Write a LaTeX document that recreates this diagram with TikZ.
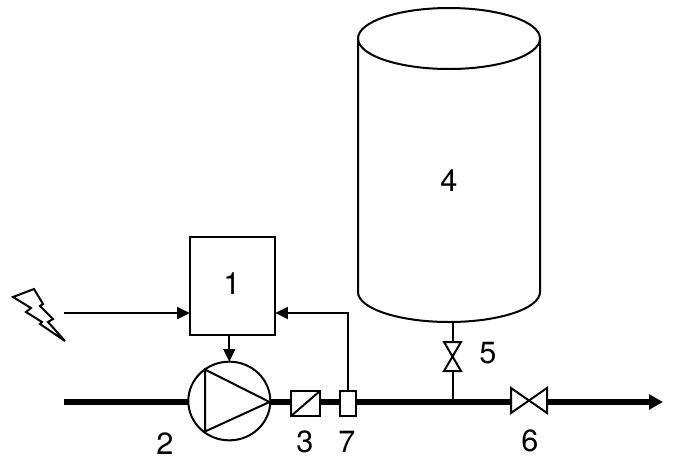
\documentclass[tikz,border=0pt]{standalone}
\usepackage{fontspec}
\setmainfont{TeX Gyre Heros}
\usetikzlibrary{arrows.meta,shapes.geometric}
\tikzset{
	lbl/.style={font=\fontsize{23}{23}\selectfont,inner sep=0pt},
	med line/.style={line width=1.5pt},
	pipe/.style={line width=4pt},
	part/.style={draw,line width=1.5pt,fill=white,inner sep=0pt,outer sep=0pt},
	mark box/.style={inner sep=0pt,outer sep=0pt},
	sig/.style={line width=1.5pt,-{Triangle[length=9.5pt,width=9pt]}}
}
\begin{document}
\begin{tikzpicture}[x=0.75pt,y=-0.75pt]
	%%%%% START %%%%%
	\useasboundingbox (0,0) rectangle (673,457);
	\def\ytop{38.5}
	\def\ybot{292}
	\def\ypipe{402}
	\def\ysig{313}

	% free ends
	\coordinate (pipein) at (64,\ypipe);
	\coordinate (pipeout) at (663,\ypipe);
	\coordinate (sigin) at (64,\ysig);
	\coordinate (tee) at (452.5,\ypipe);
	\coordinate (tankout) at (452.5,322);
	\coordinate (bend) at (347.5,\ysig);

	% parts
	\node[part,minimum width=64pt,minimum height=73.5pt] (ctrl) at (232.5,286) {};
	\node[part,ellipse,minimum width=61.5pt,minimum height=59pt] (pump) at (229.3,401) {};
	\node[part,minimum width=22pt,minimum height=19pt] (filter) at (305.5,403.5) {};
	\node[part,minimum width=12pt,minimum height=19pt] (sensor) at (347.5,403.5) {};
	\node[mark box,minimum width=12.75pt,minimum height=21.75pt] (vsmall) at (452.5,356.5) {};
	\node[mark box,minimum width=27pt,minimum height=18.75pt] (vmain) at (529,400.5) {};

	% pipe and signals
	\draw[pipe] (pipein) -- (pipein -| pump.west);
	\draw[pipe] (pump.east |- pipein) -- (pipein -| filter.west);
	\draw[pipe] (pipein -| filter.east) -- (pipein -| sensor.west);
	\draw[pipe] (pipein -| sensor.east) -- (pipein -| vmain.west);
	\draw[pipe,-{Triangle[length=10.5pt,width=11pt]}] (pipein -| vmain.east) -- (pipeout);
	\draw[med line] (tankout) -- (vsmall.north);
	\draw[med line] (vsmall.south) -- (tee);
	\draw[sig] (sigin) -- (sigin -| ctrl.west);
	\draw[sig] (sensor.north) -- (bend) -- (bend -| ctrl.east);
	\draw[sig] (ctrl.south -| pump.north) -- (pump.north);

	% inside the parts
	\draw[med line] (205,369.5) -- (205,431.5) -- (269.5,402) -- cycle;
	\draw[med line] (filter.south west) -- (filter.north east);
	\draw[med line] (vsmall.north west) -- (vsmall.north east) -- (vsmall.south west) -- (vsmall.south east) -- cycle;
	\draw[med line] (vmain.north west) -- (vmain.south west) -- (vmain.north east) -- (vmain.south east) -- cycle;

	% tank
	\draw[med line] (358,\ytop) -- (358,\ybot) .. controls (358,308.5) and (399,322) .. (449,322)
		.. controls (499,322) and (540,308.5) .. (540,\ybot) -- (540,\ytop);
	\draw[med line] (449,\ytop) ellipse (91 and 30.5);

	% lightning
	\draw[med line,miter limit=4] (13,297) -- (34,289) -- (43,304) -- (40,306) -- (53,319) -- (48,322) -- (65,341)
		-- (40,324) -- (42,322) -- (26,312) -- (31,308) -- cycle;

	% labels
	\node[lbl] (n1) at (232,284) {1};
	\node[lbl] (n2) at (165,443.5) {2};
	\node[lbl] (n3) at (305,442) {3};
	\node[lbl] (n4) at (449,181) {4};
	\node[lbl] (n5) at (488,353) {5};
	\node[lbl] (n6) at (530,441) {6};
	\node[lbl] (n7) at (347,442) {7};
	%%%%% END %%%%%
\end{tikzpicture}
\end{document}
